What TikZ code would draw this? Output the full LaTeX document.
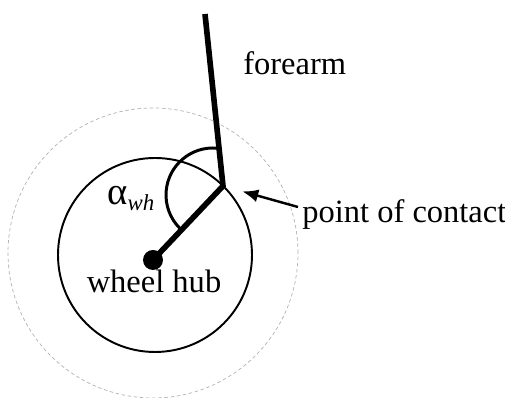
\documentclass[tikz,border=0pt]{standalone}
\usepackage{fontspec}
\setmainfont{Liberation Serif}
\usetikzlibrary{arrows.meta}
\begin{document}
\begin{tikzpicture}[x=0.02cm,y=0.02cm,
  lbl/.style={inner sep=0pt,font=\fontsize{18.5}{22}\selectfont},
  limb/.style={line width=3.2pt},
  ptr/.style={line width=1.4pt,-{Latex[length=0.32cm,width=0.26cm]},shorten >=0.4cm}]
  \useasboundingbox (0,0) rectangle (505,398);
  % wheel rims
  \draw[gray!60,line width=0.4pt,dash pattern=on 2pt off 1.5pt] (153,145) circle[radius=145];
  \draw[line width=1.1pt] (155,143) circle[radius=97];
  % hub, contact point and forearm
  \coordinate (hub) at (153,138);
  \coordinate (contact) at (223,212);
  \coordinate (elbow) at (205,384);
  \fill (hub) circle[radius=10];
  \draw[limb] (hub) -- (contact) -- (elbow);
  % angle
  \draw[line width=1.7pt] (213,203) ++(85:47) arc[start angle=85,end angle=225,radius=47];
  % labels
  \node[lbl,anchor=base west] (fa) at (243,323) {forearm};
  \node[lbl,anchor=base] (wh) at (154,105) {wheel hub};
  \node[lbl,anchor=base west] (alpha) at (107,193) {{\fontsize{22}{24}\selectfont α}\raisebox{-0.4ex}{\fontsize{13}{15}\selectfont\itshape wh}};
  \node[lbl,anchor=base west] (poc) at (302,175) {point of contact};
  \coordinate (tail) at (298,191);
  \draw[ptr] (tail) -- (contact);
\end{tikzpicture}
\end{document}
